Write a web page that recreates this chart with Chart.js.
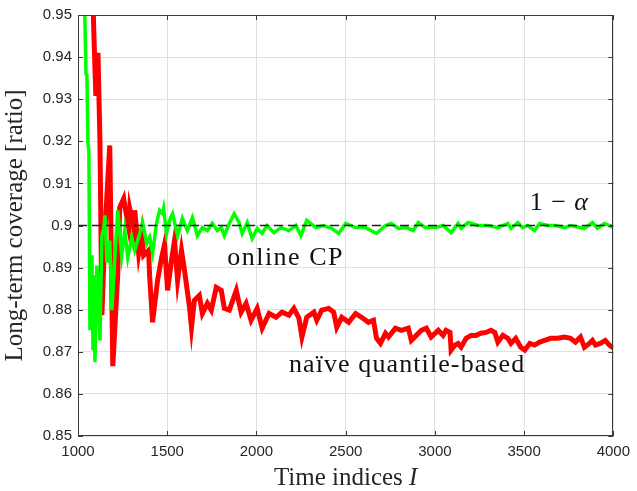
<!DOCTYPE html>
<html>
<head>
<meta charset="utf-8">
<script src="https://cdn.jsdelivr.net/npm/chart.js@4"></script>
<style>
html,body{margin:0;padding:0;background:#fff;}
#wrap{width:637px;height:491px;position:relative;}
</style>
</head>
<body>
<div id="wrap"><canvas id="c" width="637" height="491"></canvas></div>
<script>
// ---- data ----
const onlineX = [1033,1045,1050,1056,1061,1067,1078,1084,1089,1095,1106,1117,1123,1134,1145,1151,1162,1178,1190,1206,1223,1245,1262,1279,1301,1318,1346,1362,1385,1401,1418,1440,1457,1474,1480,1496,1513,1530,1558,1585,1613,1641,1669,1697,1725,1753,1781,1803,1820,1848,1875,1903,1920,1948,1976,2004,2032,2059,2098,2138,2182,2221,2249,2282,2333,2377,2422,2461,2500,2556,2611,2673,2723,2756,2795,2840,2879,2907,2946,3002,3046,3091,3130,3147,3186,3242,3297,3353,3409,3426,3465,3492,3520,3559,3587,3632,3676,3727,3760,3838,3883,3911,3950,3978,4000];
const onlineY = [0.9604,0.9360,0.9355,0.9194,0.9178,0.8751,0.8929,0.8704,0.8882,0.8675,0.8905,0.8810,0.8727,0.8976,0.8993,0.9024,0.8912,0.8964,0.8799,0.8922,0.9036,0.8929,0.8988,0.8924,0.8972,0.8941,0.8981,0.9007,0.8957,0.8972,0.8934,0.9005,0.9036,0.9028,0.9040,0.8981,0.9012,0.9028,0.8976,0.9017,0.8988,0.9019,0.8976,0.8995,0.8988,0.9005,0.8988,0.8995,0.8976,0.9005,0.9028,0.9007,0.8981,0.9007,0.8969,0.8993,0.8981,0.9000,0.8983,0.8995,0.8988,0.9000,0.8976,0.9012,0.8995,0.9000,0.8993,0.8981,0.9005,0.8995,0.8995,0.8981,0.9000,0.9005,0.8993,0.8995,0.8988,0.9007,0.8995,0.8995,0.9000,0.8983,0.9005,0.8993,0.9007,0.9000,0.9000,0.8995,0.9005,0.8993,0.9007,0.8995,0.9000,0.8988,0.9005,0.9000,0.9000,0.8995,0.9000,0.8993,0.9007,0.8993,0.9005,0.9000,0.8995];

const naiveX = [1078,1089,1100,1112,1123,1134,1151,1178,1195,1223,1234,1256,1262,1284,1290,1312,1318,1340,1357,1368,1396,1401,1418,1446,1468,1485,1502,1524,1541,1558,1580,1597,1625,1636,1652,1680,1697,1725,1747,1775,1803,1820,1848,1887,1914,1942,1970,2004,2032,2071,2110,2143,2182,2210,2238,2255,2282,2322,2338,2366,2405,2433,2450,2478,2517,2556,2589,2628,2656,2673,2695,2723,2740,2779,2812,2851,2868,2896,2924,2952,2979,3019,3046,3063,3085,3091,3113,3130,3147,3175,3203,3230,3258,3286,3314,3336,3353,3381,3409,3426,3453,3481,3504,3532,3559,3587,3615,3649,3688,3727,3760,3788,3816,3838,3866,3883,3900,3927,3955,3978,4000];
const naiveY = [0.9628,0.9455,0.9308,0.9410,0.9201,0.8787,0.8988,0.9190,0.8666,0.8886,0.9043,0.9064,0.9047,0.8995,0.9040,0.8995,0.9036,0.8934,0.8981,0.8929,0.8941,0.8882,0.8770,0.8870,0.8922,0.8955,0.8846,0.8917,0.8964,0.8870,0.8941,0.8893,0.8806,0.8758,0.8822,0.8834,0.8791,0.8815,0.8799,0.8853,0.8846,0.8803,0.8799,0.8846,0.8794,0.8815,0.8775,0.8803,0.8756,0.8791,0.8782,0.8794,0.8787,0.8803,0.8780,0.8735,0.8782,0.8794,0.8775,0.8799,0.8803,0.8794,0.8758,0.8782,0.8770,0.8791,0.8782,0.8770,0.8775,0.8732,0.8720,0.8744,0.8735,0.8756,0.8751,0.8756,0.8727,0.8739,0.8751,0.8756,0.8735,0.8751,0.8739,0.8751,0.8746,0.8704,0.8716,0.8720,0.8711,0.8732,0.8739,0.8739,0.8744,0.8746,0.8751,0.8746,0.8723,0.8739,0.8732,0.8720,0.8732,0.8711,0.8704,0.8720,0.8716,0.8723,0.8727,0.8732,0.8732,0.8735,0.8732,0.8723,0.8735,0.8711,0.8720,0.8727,0.8716,0.8720,0.8727,0.8716,0.8709];

const targetX = [1000, 4000];
const targetY = [0.9, 0.9];

const xTickLabels = ['1000','1500','2000','2500','3000','3500','4000'];
const yTickLabels = ['0.85','0.86','0.87','0.88','0.89','0.9','0.91','0.92','0.93','0.94','0.95'];

// ---- build library structures ----
const toPts = (xs, ys) => xs.map((v, i) => ({x: v, y: ys[i]}));

const SERIF = '"Liberation Serif", "Times New Roman", serif';
const SANS = '"Liberation Sans", Arial, Helvetica, sans-serif';
const AXC = '#262626';

const annotations = [
  {parts: [['1 \u2212 ', 'normal'], ['\u03b1', 'italic']], x: 3531, y: 0.9036, sp: 1.0},
  {parts: [['online CP', 'normal']], x: 1836, y: 0.8905, sp: 1.5},
  {parts: [['na\u00efve quantile-based', 'normal']], x: 2182, y: 0.8652, sp: 1.1}
];

const decor = {
  id: 'decor',
  afterDraw(chart) {
    const {ctx, chartArea: a, scales: {x, y}} = chart;
    ctx.save();
    // box
    ctx.strokeStyle = '#3a3a3a';
    ctx.lineWidth = 1;
    ctx.strokeRect(Math.round(a.left) + 0.5, Math.round(a.top) + 0.5, Math.round(a.width) - 1, Math.round(a.height) - 1);
    // inward ticks
    ctx.beginPath();
    x.ticks.forEach(t => {
      const px = Math.round(x.getPixelForValue(t.value)) + 0.5;
      ctx.moveTo(px, a.bottom); ctx.lineTo(px, a.bottom - 5);
      ctx.moveTo(px, a.top); ctx.lineTo(px, a.top + 5);
    });
    y.ticks.forEach(t => {
      const py = Math.round(y.getPixelForValue(t.value)) + 0.5;
      ctx.moveTo(a.left, py); ctx.lineTo(a.left + 5, py);
      ctx.moveTo(a.right, py); ctx.lineTo(a.right - 5, py);
    });
    ctx.stroke();
    // annotations
    ctx.fillStyle = '#111';
    ctx.textBaseline = 'alphabetic';
    ctx.textAlign = 'left';
    annotations.forEach(an => {
      let px = x.getPixelForValue(an.x);
      const py = y.getPixelForValue(an.y);
      ctx.letterSpacing = an.sp + 'px';
      an.parts.forEach(([txt, style]) => {
        ctx.font = style + ' 26px ' + SERIF;
        ctx.fillText(txt, px, py);
        px += ctx.measureText(txt).width;
      });
    });
    ctx.letterSpacing = '0px';
    // x axis title with italic I
    const partsX = [['Time indices ', 'normal'], ['I', 'italic']];
    let w = 0;
    partsX.forEach(([t, s]) => { ctx.font = s + ' 25px ' + SERIF; w += ctx.measureText(t).width; });
    let sx = (a.left + a.right) / 2 - w / 2;
    ctx.fillStyle = AXC;
    partsX.forEach(([t, s]) => {
      ctx.font = s + ' 25px ' + SERIF;
      ctx.fillText(t, sx, 485);
      sx += ctx.measureText(t).width;
    });
    ctx.restore();
  }
};

new Chart(document.getElementById('c'), {
  type: 'line',
  data: {
    datasets: [
      {label: '1 - alpha', data: toPts(targetX, targetY), borderColor: '#222', borderWidth: 1.3, borderDash: [9, 5], pointRadius: 0, fill: false},
      {label: 'online CP', data: toPts(onlineX, onlineY), borderColor: '#00ff00', borderWidth: 3.5, pointRadius: 0, tension: 0, fill: false},
      {label: 'naive quantile-based', data: toPts(naiveX, naiveY), borderColor: '#ff0000', borderWidth: 5, pointRadius: 0, tension: 0, fill: false}
    ]
  },
  options: {
    responsive: false,
    animation: false,
    events: [],
    layout: {padding: {left: 0, right: 21, top: 14, bottom: 0}},
    plugins: {legend: {display: false}, tooltip: {enabled: false}},
    scales: {
      x: {
        type: 'linear', min: 1000, max: 4000,
        afterFit: s => { s.height = 55; },
        border: {display: false},
        grid: {color: '#e0e0e0', drawTicks: false},
        ticks: {stepSize: 500, padding: 7, color: AXC, font: {family: SANS, size: 15},
                callback: (v, i) => xTickLabels[i]}
      },
      y: {
        min: 0.85, max: 0.95,
        afterFit: s => { s.width = 78; },
        border: {display: false},
        grid: {color: '#e0e0e0', drawTicks: false},
        ticks: {stepSize: 0.01, padding: 6, color: AXC, font: {family: SANS, size: 15},
                callback: (v, i) => yTickLabels[i]},
        title: {display: true, text: 'Long-term coverage [ratio]', color: AXC,
                font: {family: SERIF, size: 25}, padding: {top: 0, bottom: 0}}
      }
    }
  },
  plugins: [decor]
});
</script>
</body>
</html>
